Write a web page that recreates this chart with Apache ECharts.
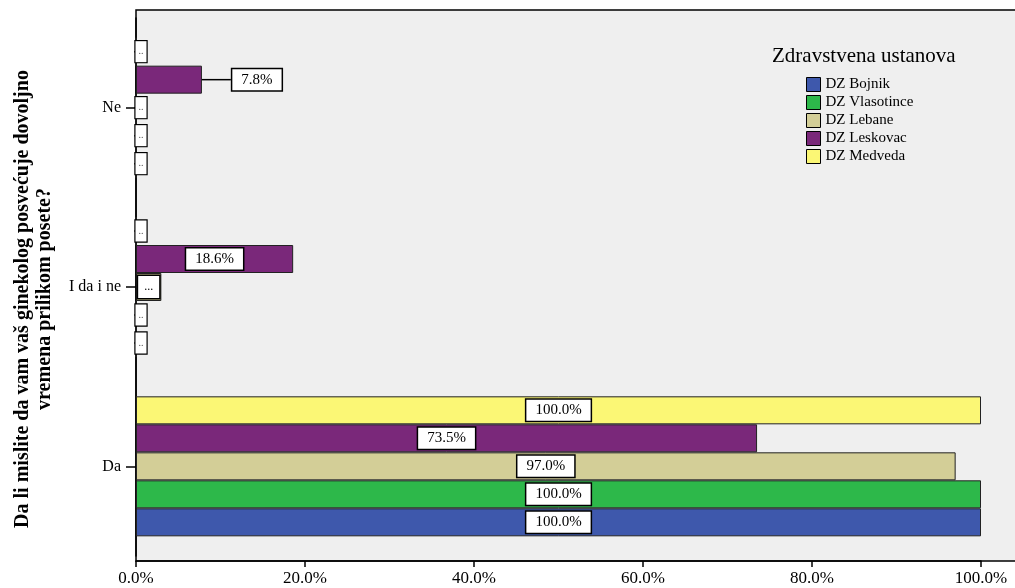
<!DOCTYPE html>
<html>
<head>
<meta charset="utf-8">
<style>
  html, body { margin: 0; padding: 0; background: #fff; }
  #chart { width: 1015px; height: 588px; }
</style>
<script src="https://cdn.jsdelivr.net/npm/echarts@6/dist/echarts.min.js"></script>
</head>
<body>
<div id="chart"></div>
<script>
// answers, bottom to top
const categories = ['Da', 'I da i ne', 'Ne'];

// percent per institution
const bojnik = [100.0, 0, 0];
const vlasotince = [100.0, 0, 0];
const lebane = [97.0, 3.0, 0];
const leskovac = [73.5, 18.6, 7.8];
const medveda = [100.0, 0, 0];

const xTicks = [0, 20, 40, 60, 80, 100];

const seriesNames = ['DZ Bojnik', 'DZ Vlasotince', 'DZ Lebane', 'DZ Leskovac', 'DZ Medveda'];
const seriesValues = [bojnik, vlasotince, lebane, leskovac, medveda];
const colors = ['#3e58ac', '#2db84a', '#d3ce97', '#7a287a', '#fbf775'];

const FONT = '"Liberation Serif", "Times New Roman", serif';

const boxLabel = {
    show: true,
    position: 'inside',
    color: '#000',
    fontFamily: FONT,
    fontSize: 15,
    lineHeight: 15,
    backgroundColor: '#fff',
    borderColor: '#000',
    borderWidth: 1.5,
    padding: [3, 9]
};

function makeData(values) {
    return values.map(function(v) {
        if (v === 0) {
            // empty bar: tiny box stuck to the axis
            return {
                value: v,
                label: Object.assign({}, boxLabel, {
                    position: 'insideLeft', distance: 0,
                    formatter: '..', fontSize: 10, lineHeight: 11,
                    color: '#555', padding: [5, 3], borderWidth: 1.2
                })
            };
        }
        if (v < 5) {
            return {
                value: v,
                label: Object.assign({}, boxLabel, {
                    formatter: '...', fontSize: 12, lineHeight: 12,
                    padding: [5, 6]
                })
            };
        }
        return { value: v, label: Object.assign({}, boxLabel, {
            formatter: function(p) { return p.value.toFixed(1) + '%'; }
        }) };
    });
}

// ECharts stacks bars of a group top-down in series order, so build them reversed
const series = [];
for (let i = seriesNames.length - 1; i >= 0; i--) {
    series.push({
        name: seriesNames[i],
        type: 'bar',
        barWidth: 28,
        barGap: '0%',
        data: makeData(seriesValues[i]),
        itemStyle: { color: colors[i], borderColor: '#222', borderWidth: 1 },
        labelLayout: function(p) {
            const v = p.value !== undefined ? p.value : null;
            const raw = series[p.seriesIndex] ? series[p.seriesIndex].data[p.dataIndex].value : v;
            if (raw >= 5 && raw < 10) return { dx: 88 };
            return {};
        },
        labelLine: { show: true, lineStyle: { color: '#000', width: 1.5 } },
        emphasis: { disabled: true }
    });
}

const chart = echarts.init(document.getElementById('chart'));
chart.setOption({
    animation: false,
    backgroundColor: '#fff',
    title: {
        text: 'Zdravstvena ustanova',
        left: 772,
        top: 46,
        padding: 0,
        textStyle: { fontFamily: FONT, fontSize: 21, fontWeight: 'normal', color: '#000' }
    },
    legend: {
        orient: 'vertical',
        left: 806,
        top: 77,
        padding: 0,
        itemWidth: 14,
        itemHeight: 14,
        itemGap: 3,
        icon: 'rect',
        selectedMode: false,
        itemStyle: { borderColor: '#000', borderWidth: 1 },
        textStyle: { fontFamily: FONT, fontSize: 15, color: '#000' },
        data: seriesNames
    },
    graphic: [{
        type: 'rect',
        z: -10,
        silent: true,
        shape: { x: 136, y: 10, width: 900, height: 551 },
        style: { fill: '#efefef', stroke: '#000', lineWidth: 1.5 }
    }],
    grid: { left: 136, right: 34, top: 18, bottom: 32, containLabel: false, outerBoundsMode: 'none' },
    xAxis: {
        type: 'value',
        min: 0,
        max: 100,
        interval: 20,
        offset: 5,
        axisLine: { show: true, lineStyle: { color: '#000', width: 1.5 } },
        axisTick: { show: true, length: 6, lineStyle: { color: '#000', width: 1.5 }, customValues: xTicks },
        splitLine: { show: false },
        axisLabel: {
            customValues: xTicks,
            margin: 9,
            fontFamily: FONT, fontSize: 17, color: '#000',
            formatter: function(v) { return v.toFixed(1) + '%'; }
        }
    },
    yAxis: {
        type: 'category',
        data: categories,
        name: 'Da li mislite da vam vaš ginekolog posvećuje dovoljno\nvremena prilikom posete?',
        nameLocation: 'middle',
        nameRotate: 90,
        nameGap: 80,
        nameTextStyle: {
            fontFamily: FONT, fontSize: 20, fontWeight: 'bold', color: '#000',
            lineHeight: 22, align: 'center', padding: [0, 24, 0, 0]
        },
        axisLine: { show: true, lineStyle: { color: '#000', width: 1.5 } },
        axisTick: { show: true, alignWithLabel: true, length: 10, lineStyle: { color: '#000', width: 1.5 } },
        axisLabel: { margin: 15, fontFamily: FONT, fontSize: 16, color: '#000' },
        splitLine: { show: false }
    },
    series: series
});
</script>
</body>
</html>
